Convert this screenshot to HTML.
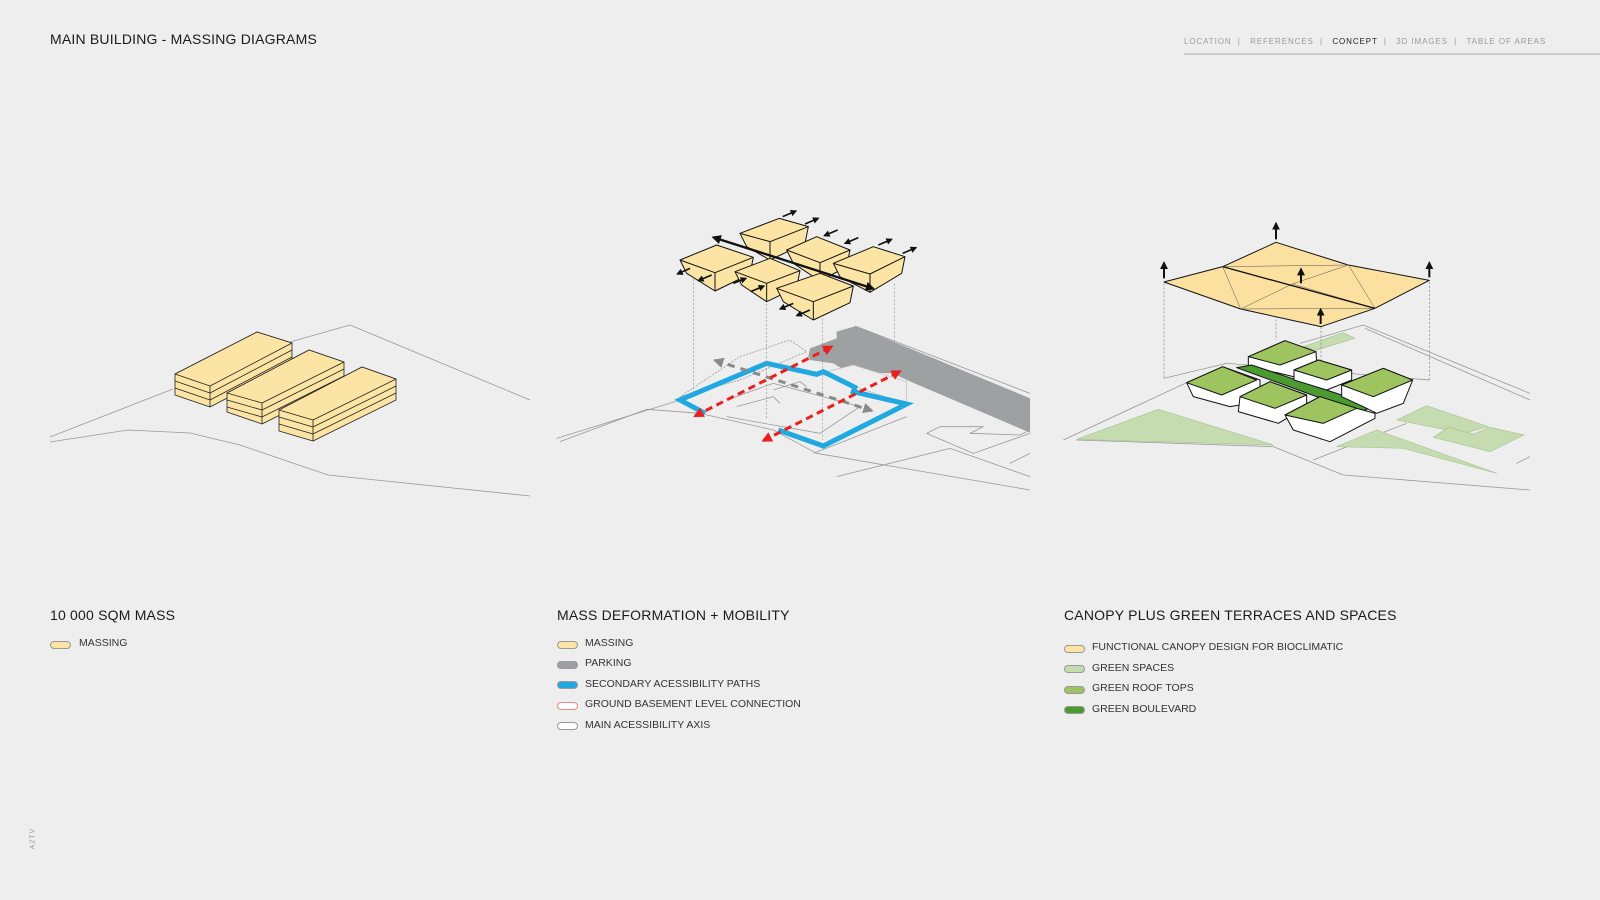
<!DOCTYPE html>
<html><head><meta charset="utf-8"><style>
html,body{margin:0;padding:0;background:#eeeeee;}
body{width:1600px;height:900px;overflow:hidden;position:relative;font-family:"Liberation Sans",sans-serif;color:#222;}
.t{position:absolute;white-space:nowrap;}
.h{font-size:14px;letter-spacing:0.2px;color:#1a1a1a;}
.li{font-size:10.5px;color:#333;}
.sw{position:absolute;width:19px;height:6px;border-radius:4px;border:1px solid #999;}
</style></head><body>
<svg width="1600" height="900" viewBox="0 0 1600 900" style="position:absolute;left:0;top:0" fill="none" stroke-linejoin="round">
<defs>
<marker id="ab" viewBox="0 0 10 10" refX="8" refY="5" markerWidth="4" markerHeight="4" orient="auto-start-reverse"><path d="M0,0L10,5L0,10z" fill="#111"/></marker>
<marker id="ar" viewBox="0 0 10 10" refX="8" refY="5" markerWidth="3.5" markerHeight="3.5" orient="auto-start-reverse"><path d="M0,0L10,5L0,10z" fill="#e82020"/></marker>
<marker id="ag" viewBox="0 0 10 10" refX="8" refY="5" markerWidth="3.5" markerHeight="3.5" orient="auto-start-reverse"><path d="M0,0L10,5L0,10z" fill="#8a8a8a"/></marker>
</defs>
<line x1="1184" y1="54" x2="1600" y2="54" stroke="#aaa" stroke-width="1"/>
<!-- LEFT -->
<g stroke="#999" stroke-width="0.8">
<polyline points="50,437 173,389"/><polyline points="290,342 350,325 530,400"/>
<polyline points="50,442 128,430 190,433 240,445 328,475 530,496"/>
</g>
<g stroke="#222" stroke-width="0.8" fill="#fbe4a4">
<polygon points="175,374 257,332 292,343 292,364 210,407 175,395"/>
<polygon points="175,374 257,332 292,343 210,386"/>
<line x1="210" y1="386" x2="210" y2="407"/>
<polyline points="175,381 210,393 292,350" fill="none"/><polyline points="175,388 210,400 292,357" fill="none"/>
<polygon points="227,393 309,350 344,362 344,383 262,424 227,412"/>
<polygon points="227,393 309,350 344,362 262,403"/>
<line x1="262" y1="403" x2="262" y2="424"/>
<polyline points="227,400 262,410 344,369" fill="none"/><polyline points="227,407 262,417 344,376" fill="none"/>
<polygon points="279,410 362,367 396,379 396,400 313,441 279,431"/>
<polygon points="279,410 362,367 396,379 313,420"/>
<line x1="313" y1="420" x2="313" y2="441"/>
<polyline points="279,417 313,427 396,386" fill="none"/><polyline points="279,424 313,434 396,393" fill="none"/>
</g>
<!-- MIDDLE -->
<g transform="translate(540,200) scale(0.33333)">
<g stroke="#999" stroke-width="2.4">
<polyline points="50,715 420,600"/><polyline points="60,725 320,628 480,640 700,690 830,760 1470,870"/>
<polyline points="945,378 1470,580"/><polyline points="960,385 1470,600"/>
<polyline points="820,760 1100,650"/><polyline points="890,830 1230,745 1470,830"/>
<polyline points="1160,700 1200,680 1330,680 1290,700 1440,705 1470,690"/><polyline points="1160,700 1300,760 1470,700"/>
<polyline points="1410,790 1470,760"/>
<polyline points="600,470 750,420 800,455 600,540 420,590 600,470" stroke-dasharray="6,4"/>
<polyline points="560,600 700,550 960,620 840,700 560,650" />
<polyline points="700,570 780,545 800,560"/><polyline points="590,620 700,590 720,610"/>
</g>
<polygon points="805,470 810,445 890,415 890,395 948,378 1470,595 1470,698 1100,540 1060,520 920,515 880,490 810,480" fill="#9ea1a2"/>
<polygon points="840,520 940,495 1100,545 1100,612 945,560" fill="#eeeeee" stroke="#bbb" stroke-width="2"/>
<polyline points="495,640 420,600 680,490 830,523 850,515 945,562 940,575 1100,612 850,738 715,690" stroke="#20a8e0" stroke-width="15" stroke-linejoin="miter"/>
<g stroke="#999" stroke-width="2" stroke-dasharray="7,5">
<line x1="460" y1="225" x2="460" y2="580"/><line x1="680" y1="300" x2="680" y2="660"/><line x1="848" y1="355" x2="848" y2="720"/><line x1="1063" y1="250" x2="1063" y2="530"/>
</g>
<line x1="525" y1="481" x2="995" y2="632" stroke="#8a8a8a" stroke-width="9" stroke-dasharray="22,18" marker-start="url(#ag)" marker-end="url(#ag)"/>
<line x1="465" y1="648" x2="875" y2="440" stroke="#e82020" stroke-width="9" stroke-dasharray="22,14" marker-start="url(#ar)" marker-end="url(#ar)"/>
<line x1="670" y1="722" x2="1080" y2="514" stroke="#e82020" stroke-width="9" stroke-dasharray="22,14" marker-start="url(#ar)" marker-end="url(#ar)"/>
<g fill="#fbe4a4" stroke="#111" stroke-width="3">
<polygon points="600,100 718,55 805,80 795,130 690,180 620,140"/><polyline points="600,100 690,125 805,80"/><line x1="690" y1="125" x2="690" y2="180"/>
<polygon points="740,150 830,110 930,150 920,200 840,243 760,190"/><polyline points="740,150 840,188 930,150"/><line x1="840" y1="188" x2="840" y2="243"/>
<polygon points="880,190 1000,140 1095,170 1085,220 990,277 900,230"/><polyline points="880,190 990,222 1095,170"/><line x1="990" y1="222" x2="990" y2="277"/>
<polygon points="420,180 530,135 640,172 630,222 525,273 440,220"/><polyline points="420,180 525,218 640,172"/><line x1="525" y1="218" x2="525" y2="273"/>
<polygon points="585,215 690,175 780,212 770,262 680,305 605,255"/><polyline points="585,215 680,250 780,212"/><line x1="680" y1="250" x2="680" y2="305"/>
<polygon points="710,265 840,220 940,258 930,308 820,360 730,305"/><polyline points="710,265 820,305 940,258"/><line x1="820" y1="305" x2="820" y2="360"/>
</g>
<line x1="520" y1="112" x2="1000" y2="266" stroke="#111" stroke-width="7" marker-start="url(#ab)" marker-end="url(#ab)"/>
<g stroke="#111" stroke-width="5" marker-end="url(#ab)">
<line x1="728" y1="50" x2="768" y2="33"/><line x1="795" y1="72" x2="835" y2="55"/><line x1="893" y1="90" x2="853" y2="107"/><line x1="955" y1="113" x2="915" y2="130"/>
<line x1="1015" y1="135" x2="1055" y2="118"/><line x1="1088" y1="160" x2="1128" y2="143"/>
<line x1="450" y1="205" x2="412" y2="222"/><line x1="515" y1="225" x2="475" y2="242"/>
<line x1="580" y1="250" x2="618" y2="235"/><line x1="632" y1="275" x2="672" y2="258"/>
<line x1="760" y1="310" x2="720" y2="327"/><line x1="810" y1="330" x2="770" y2="347"/>
</g>
</g>
<!-- RIGHT -->
<g transform="translate(1040,200) scale(0.33333)">
<g stroke="#999" stroke-width="2.4">
<polyline points="70,720 440,548"/><polyline points="780,430 970,375 1470,580"/><polyline points="975,385 1470,600"/>
<polyline points="110,720 700,740 910,825 1470,870"/><polyline points="820,780 1100,670"/>
<polyline points="1430,790 1470,770"/>
</g>
<g fill="#c5dcb0" stroke="#aac393" stroke-width="2">
<polygon points="110,718 355,628 700,735"/>
<polygon points="890,740 1010,690 1370,820 1090,745"/>
<polygon points="1070,660 1160,617 1345,680 1270,700"/>
<polygon points="1180,712 1225,682 1300,702 1350,682 1452,705 1350,755"/>
<polygon points="790,440 910,398 945,415 830,450"/>
</g>
<g stroke="#888" stroke-width="2" stroke-dasharray="7,5">
<line x1="372" y1="250" x2="372" y2="535"/><line x1="708" y1="130" x2="708" y2="420"/><line x1="843" y1="380" x2="843" y2="720"/><line x1="1168" y1="245" x2="1168" y2="540"/>
</g>
<polyline points="372,535 560,490 1168,540" stroke="#888" stroke-width="2"/>
<g stroke="#111" stroke-width="3">
<polygon points="440,548 548,500 660,540 660,580 600,615 570,620 460,590" fill="#fff"/><polygon points="440,548 548,500 650,540 545,585" fill="#9dc45f"/>
<polygon points="625,470 735,422 828,455 830,490 760,530 720,520 625,500" fill="#fff"/><polygon points="625,470 735,422 828,455 720,495" fill="#9dc45f"/>
<polygon points="590,503 635,495 1003,618 960,637" fill="#4c9a30"/>
<polygon points="762,510 835,480 935,510 935,540 860,570 762,540" fill="#fff"/><polygon points="762,510 835,480 935,510 860,540" fill="#9dc45f"/>
<polygon points="905,555 1030,505 1118,540 1090,610 1010,640 970,620 905,590" fill="#fff"/><polygon points="905,555 1030,505 1118,540 1000,590" fill="#9dc45f"/>
<polygon points="600,590 690,545 800,585 800,620 715,670 595,635" fill="#fff"/><polygon points="600,590 690,545 800,585 705,625" fill="#9dc45f"/>
<polygon points="735,645 840,590 950,625 1005,640 1005,655 870,725 760,690" fill="#fff"/><polygon points="735,645 840,590 950,625 850,670" fill="#9dc45f"/>
</g>
<polygon points="372,246 548,200 708,127 925,195 1168,241 1005,325 843,380 602,327" fill="#fbe0a0" stroke="#111" stroke-width="3"/>
<g stroke="#555" stroke-width="1.5">
<line x1="548" y1="200" x2="602" y2="327"/><line x1="925" y1="195" x2="757" y2="252"/><line x1="757" y1="252" x2="602" y2="327"/>
<line x1="757" y1="252" x2="1005" y2="325"/><line x1="925" y1="195" x2="1005" y2="325"/><line x1="548" y1="200" x2="925" y2="195"/><line x1="602" y1="327" x2="1005" y2="325"/>
</g>
<line x1="548" y1="200" x2="1005" y2="325" stroke="#111" stroke-width="4"/>
<g stroke="#111" stroke-width="6" marker-end="url(#ab)">
<line x1="372" y1="235" x2="372" y2="188"/><line x1="708" y1="118" x2="708" y2="70"/><line x1="1168" y1="232" x2="1168" y2="188"/>
<line x1="783" y1="250" x2="783" y2="207"/><line x1="842" y1="372" x2="842" y2="328"/>
</g>
</g>
</svg>
<div class="t h" style="left:50px;top:31px;">MAIN BUILDING - MASSING DIAGRAMS</div>
<div class="t" style="left:1184px;top:37px;font-size:8px;letter-spacing:0.9px;color:#999;">LOCATION &nbsp;| &nbsp;&nbsp;REFERENCES &nbsp;| &nbsp;&nbsp;<span style="color:#222">CONCEPT</span> &nbsp;| &nbsp;&nbsp;3D IMAGES &nbsp;| &nbsp;&nbsp;TABLE OF AREAS</div>
<div class="t" style="left:22px;top:835px;font-size:7px;color:#999;transform:rotate(-90deg);letter-spacing:1px;">A2TV</div>

<div class="t h" style="left:50px;top:607px;">10 000 SQM MASS</div>
<div class="sw" style="left:50px;top:641px;background:#fbe4a4;"></div><div class="t li" style="left:79px;top:637px;">MASSING</div>

<div class="t h" style="left:557px;top:607px;">MASS DEFORMATION + MOBILITY</div>
<div class="sw" style="left:557px;top:641px;background:#fbe4a4;"></div><div class="t li" style="left:585px;top:637px;">MASSING</div>
<div class="sw" style="left:557px;top:661px;background:#9ea1a2;"></div><div class="t li" style="left:585px;top:657px;">PARKING</div>
<div class="sw" style="left:557px;top:681px;background:#20a8e0;"></div><div class="t li" style="left:585px;top:678px;">SECONDARY ACESSIBILITY PATHS</div>
<div class="sw" style="left:557px;top:702px;background:#fff;border-color:#e88;"></div><div class="t li" style="left:585px;top:698px;">GROUND BASEMENT LEVEL CONNECTION</div>
<div class="sw" style="left:557px;top:722px;background:#fff;"></div><div class="t li" style="left:585px;top:719px;">MAIN ACESSIBILITY AXIS</div>

<div class="t h" style="left:1064px;top:607px;">CANOPY PLUS GREEN TERRACES AND SPACES</div>
<div class="sw" style="left:1064px;top:645px;background:#fbe4a4;"></div><div class="t li" style="left:1092px;top:641px;">FUNCTIONAL CANOPY DESIGN FOR BIOCLIMATIC</div>
<div class="sw" style="left:1064px;top:665px;background:#c5dcb0;"></div><div class="t li" style="left:1092px;top:662px;">GREEN SPACES</div>
<div class="sw" style="left:1064px;top:686px;background:#9dc45f;"></div><div class="t li" style="left:1092px;top:682px;">GREEN ROOF TOPS</div>
<div class="sw" style="left:1064px;top:706px;background:#4c9a30;"></div><div class="t li" style="left:1092px;top:703px;">GREEN BOULEVARD</div>
</body></html>
